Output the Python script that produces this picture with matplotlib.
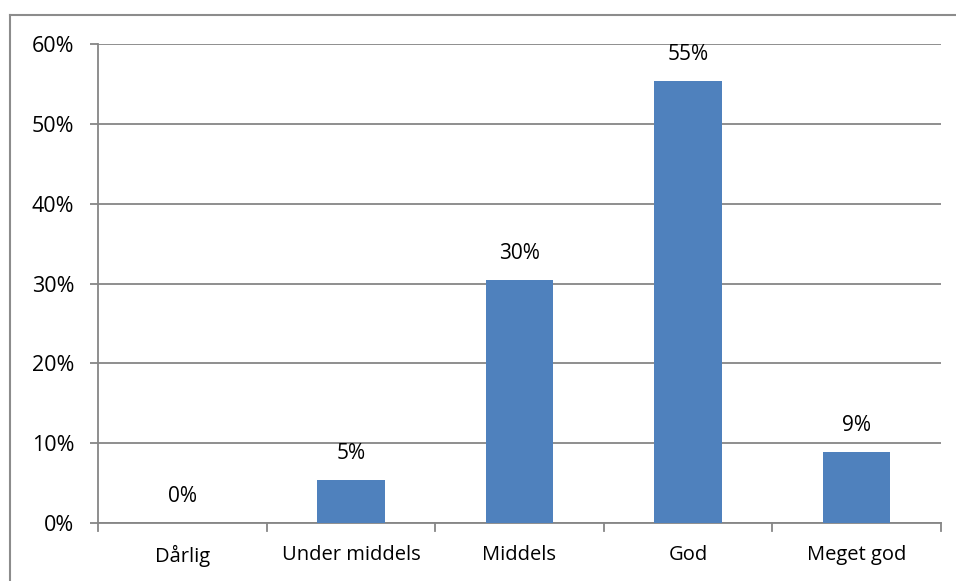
import matplotlib
matplotlib.use("Agg")
import matplotlib.pyplot as plt
from matplotlib.lines import Line2D

categories = ["Dårlig", "Under middels", "Middels", "God", "Meget god"]
shares = [0.0, 5.4, 30.4, 55.4, 8.9]   # percent
yticks = [0, 10, 20, 30, 40, 50, 60]

plt.rcParams['font.family'] = ['Open Sans', 'DejaVu Sans']

W, H = 956, 581
fig = plt.figure(figsize=(W/100, H/100), dpi=100)
ax = fig.add_axes([98/W, 1-523/H, (941-98)/W, (523-44)/H])

grid = '#868686'
x = range(len(categories))
ax.bar(x, shares, width=0.4, color='#4F81BD', zorder=3)
for i, v in enumerate(shares):
    ax.annotate(f"{v:.0f}%", (i, v), xytext=(0, 19), textcoords='offset points',
                ha='center', va='center', fontsize=15, color='black')

ax.set_xlim(-0.5, len(categories)-0.5)
ax.set_ylim(0, 60)
ax.set_yticks(yticks)
ax.set_yticklabels([f"{t}%" for t in yticks], fontsize=15.5)
ax.yaxis.grid(True, color=grid, lw=1.3, zorder=0)
ax.set_xticks(list(x))
ax.set_xticklabels(categories, fontsize=14.5)
ax.tick_params(axis='x', length=0, pad=16)
ax.tick_params(axis='y', length=6, color=grid, width=1.3, pad=11)
# category separators below the axis
for b in [i - 0.5 for i in range(len(categories)+1)]:
    ax.plot([b, b], [0, -1.0], color=grid, lw=1.3, clip_on=False, zorder=4)

for s in ['top', 'right']:
    ax.spines[s].set_visible(False)
for s in ['left', 'bottom']:
    ax.spines[s].set_color(grid)
    ax.spines[s].set_linewidth(1.3)

# chart area border
fig.add_artist(Line2D([10/W, 1], [1-15/H, 1-15/H], color='#8c8c8c', lw=1.5))
fig.add_artist(Line2D([10/W, 10/W], [0, 1-15/H], color='#8c8c8c', lw=1.5))

fig.savefig("out.png", dpi=100, facecolor='white')
